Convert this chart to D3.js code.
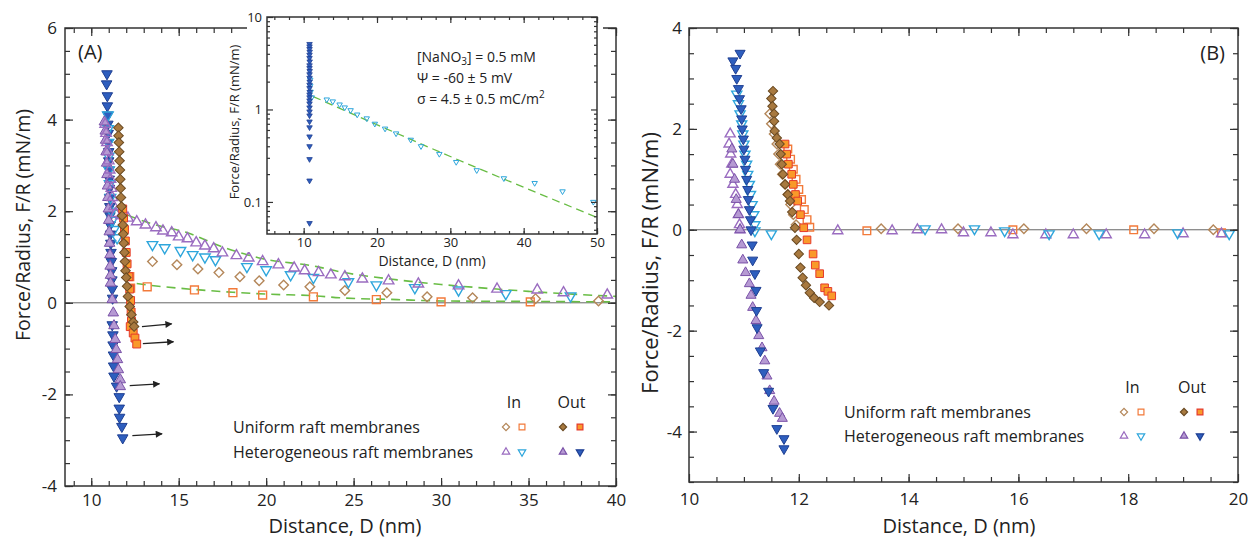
<!DOCTYPE html>
<html>
<head>
<meta charset="utf-8">
<script src="https://cdn.jsdelivr.net/npm/d3@7"></script>
<style>
  body { margin: 0; background: #fff; }
  svg { font-family: "Open Sans", sans-serif; }
</style>
</head>
<body>
<div class="plot"></div>
<script>
/* ---------- panel A data: [distance (nm), F/R (mN/m)] ---------- */
const aUniInDia = [[13.5,0.90],[14.9,0.83],[16.1,0.74],[17.3,0.66],[18.5,0.57],[19.6,0.48],[21.0,0.39],[22.5,0.35],
  [24.5,0.27],[26.9,0.22],[29.2,0.13],[31.8,0.11],[35.4,0.09],[39.0,0.04]];
const aUniInSq = [[12.2,0.57],[12.25,0.32],[13.2,0.35],[15.9,0.28],[18.1,0.22],[19.8,0.17],[22.7,0.13],[26.3,0.07],
  [30.0,0.02],[35.1,0.02]];
const aHetInUp = [[10.8,3.9],[10.85,3.7],[10.9,3.5],[10.95,3.3],[11.0,3.1],[11.05,2.9],[11.1,2.7],[11.15,2.5],
  [11.2,2.3],[11.3,2.1],[11.4,1.95],[11.7,1.9],[12.1,1.85],[12.6,1.77],[13.1,1.70],[13.7,1.64],[14.1,1.57],
  [14.6,1.53],[15.0,1.44],[15.5,1.40],[16.0,1.31],[16.5,1.24],[17.0,1.18],[17.5,1.09],[18.3,1.03],[19.0,0.98],
  [19.8,0.90],[20.7,0.83],[21.6,0.76],[22.2,0.70],[23.0,0.66],[23.7,0.61],[24.5,0.57],[25.5,0.52],[27.0,0.48],
  [28.7,0.41],[31.0,0.37],[33.2,0.30],[35.5,0.28],[37.0,0.22],[39.5,0.17]];
const aHetInDown = [[10.95,4.1],[10.97,3.8],[10.98,3.5],[11.0,3.2],[11.02,2.9],[11.05,2.6],[11.1,2.3],[11.15,2.0],
  [11.2,1.8],[11.3,1.6],[11.48,1.42],[13.5,1.27],[14.2,1.20],[15.1,1.14],[15.8,1.05],[16.5,1.00],[17.1,0.94],
  [18.9,0.79],[20.0,0.72],[21.4,0.61],[22.7,0.55],[24.7,0.46],[26.3,0.39],[28.5,0.33],[31.0,0.28],[33.7,0.20],[37.4,0.15]];
const aHetOutDown = [[10.9,5.0],[10.88,4.78],[10.92,4.52],[10.92,4.3],[10.95,4.1],[10.95,3.9],[10.97,3.7],[10.98,3.5],
  [11.0,3.3],[11.0,3.1],[11.02,2.9],[11.03,2.7],[11.04,2.5],[11.05,2.3],[11.06,2.1],[11.07,1.9],[11.08,1.7],
  [11.1,1.5],[11.12,1.3],[11.13,1.1],[11.15,0.9],[11.17,0.7],[11.18,0.5],[11.2,0.3],[11.22,0.1],[11.2,-0.48],
  [11.24,-0.7],[11.25,-0.92],[11.27,-1.14],[11.28,-1.38],[11.3,-1.6],[11.45,-1.82],[11.6,-2.05],[11.6,-2.3],
  [11.62,-2.5],[11.75,-2.7],[11.8,-2.95]];
const aHetOutUp = [[10.75,3.95],[10.8,3.75],[10.82,3.55],[10.85,3.3],[10.88,3.05],[10.9,2.8],[10.93,2.55],[10.95,2.3],
  [10.98,2.05],[11.0,1.8],[11.03,1.55],[11.05,1.3],[11.07,1.05],[11.08,0.8],[11.1,0.6],[11.1,0.43],[11.2,0.07],
  [11.26,-0.22],[11.3,-0.5],[11.37,-0.8],[11.43,-1.02],[11.5,-1.24],[11.55,-1.46],[11.66,-1.68],[11.66,-1.83]];
const aUniOutDia = [[11.55,3.82],[11.56,3.65],[11.58,3.5],[11.6,3.3],[11.62,3.1],[11.64,2.9],[11.66,2.7],[11.68,2.5],
  [11.7,2.3],[11.73,2.1],[11.76,1.9],[11.8,1.7],[11.83,1.5],[11.86,1.3],[11.9,1.1],[11.93,0.9],[11.96,0.7],
  [12.0,0.55],[12.05,0.36],[12.1,0.14],[12.2,-0.08],[12.3,-0.26],[12.4,-0.42],[12.45,-0.52]];
const aUniOutSq = [[11.8,2.05],[11.85,1.85],[11.9,1.6],[11.95,1.35],[12.0,1.1],[12.05,0.85],[12.15,0.57],[12.2,0.3],
  [12.25,0.05],[12.28,-0.2],[12.3,-0.4],[12.23,-0.52],[12.4,-0.66],[12.5,-0.77],[12.6,-0.9]];
const aFitUpper = [[11.3,2.05],[12.5,1.85],[13.5,1.72],[15.5,1.53],[17.5,1.22],[19.6,0.98],[22.9,0.79],[24.2,0.68],
  [27.5,0.50],[30,0.40],[32.5,0.32],[35,0.25],[37.5,0.19],[40,0.14]];
const aFitLower = [[12.6,0.42],[13.2,0.39],[15,0.32],[18.1,0.23],[20,0.19],[22.9,0.15],[24.2,0.11],[27.5,0.07],
  [30,0.04],[35,0.03],[40,0.02]];
// jump-out arrows: [d0, v0, d1, v1]
const aArrows = [[12.9,-0.52,14.6,-0.46],[12.95,-0.89,14.7,-0.85],[12.2,-1.81,13.9,-1.77],[12.35,-2.9,14.05,-2.86]];

/* ---------- inset data ---------- */
const insOutDown = [[10.8,5.1],[10.8,4.8],[10.8,4.5],[10.82,4.2],[10.8,3.9],[10.8,3.6],[10.82,3.3],[10.8,3.0],
  [10.8,2.8],[10.82,2.6],[10.8,2.4],[10.8,2.2],[10.82,2.0],[10.8,1.85],[10.8,1.7],[10.82,1.55],[10.8,1.45],
  [10.8,1.35],[10.8,1.25],[10.8,1.16],[10.8,1.05],[10.8,0.95],[10.8,0.86],[10.8,0.74],[10.8,0.64],[10.8,0.51],
  [10.8,0.40],[10.8,0.29],[10.8,0.17],[10.8,0.059]];
const insInDown = [[10.9,2.1],[10.9,1.8],[10.95,1.55],[11.1,1.35],[13.15,1.28],[13.97,1.22],[14.9,1.13],[15.6,1.05],
  [16.4,0.98],[17.3,0.88],[18.6,0.80],[19.7,0.70],[21.1,0.62],[22.6,0.55],[24.6,0.47],[26.0,0.40],[28.5,0.33],
  [30.8,0.27],[33.6,0.22],[37.3,0.18],[41.5,0.16],[45.3,0.13],[49.5,0.10]];
const insFit = [[11.3,1.38],[30,0.31],[50,0.068]];
const insText = ["[NaNO|3|] = 0.5 mM", "\u03A8 = -60 \u00B1 5 mV", "\u03C3 = 4.5 \u00B1 0.5 mC/m^2"];

/* ---------- panel B data ---------- */
const bUniInDia = [[11.47,2.3],[11.5,2.1],[11.55,1.9],[11.6,1.7],[11.63,1.5],[11.66,1.3],[11.7,1.1],[11.75,0.9],
  [11.8,0.7],[11.85,0.5],[11.9,0.3],[11.95,0.1],[13.5,0.02],[14.9,0.02],[16.1,0.02],[17.24,0.02],[18.47,0.02],[19.55,0.0]];
const bUniInSq = [[11.8,1.6],[11.85,1.4],[11.9,1.2],[11.95,1.0],[12.0,0.8],[12.05,0.6],[12.1,0.4],[12.15,0.2],
  [12.2,0.05],[13.24,-0.02],[15.9,0.0],[18.1,0.0],[19.7,-0.06]];
const bHetInUp = [[10.75,1.9],[10.73,1.7],[10.76,1.5],[10.78,1.3],[10.75,1.1],[10.8,0.9],[10.85,0.7],[10.88,0.5],
  [10.9,0.3],[10.92,0.1],[10.93,0.0],[12.71,-0.02],[13.7,-0.02],[14.16,0.0],[14.6,0.0],[15.0,-0.06],[15.5,-0.06],
  [15.9,-0.1],[16.5,-0.1],[17.0,-0.1],[17.6,-0.1],[18.3,-0.1],[19.0,-0.08],[19.7,-0.08]];
const bHetInDown = [[10.87,2.69],[10.9,2.5],[10.93,2.3],[10.96,2.1],[10.98,1.9],[11.0,1.7],[11.02,1.5],[11.05,1.3],
  [11.07,1.1],[11.1,0.9],[11.12,0.7],[11.15,0.5],[11.18,0.3],[11.2,0.1],[11.2,-0.02],[11.5,-0.08],[14.3,0.02],
  [15.2,0.02],[15.75,-0.02],[16.56,-0.08],[17.47,-0.08],[18.9,-0.06],[19.84,-0.08]];
const bHetOutDown = [[10.93,3.5],[10.8,3.35],[10.85,3.2],[10.87,3.0],[10.9,2.8],[10.92,2.6],[10.95,2.4],[10.96,2.2],
  [10.97,2.0],[10.99,1.8],[11.0,1.6],[11.02,1.4],[11.03,1.2],[11.05,1.0],[11.07,0.8],[11.08,0.6],[11.1,0.4],
  [11.12,0.2],[11.13,0.0],[11.15,-0.3],[11.16,-0.6],[11.2,-0.87],[11.22,-1.2],[11.23,-1.6],[11.24,-1.94],
  [11.3,-2.4],[11.36,-2.83],[11.45,-3.2],[11.53,-3.54],[11.6,-3.94],[11.73,-4.14],[11.73,-4.34]];
const bHetOutUp = [[10.78,1.6],[10.8,1.3],[10.83,1.0],[10.86,0.6],[10.9,0.3],[10.93,0.0],[10.96,-0.3],[10.98,-0.6],
  [11.03,-0.85],[11.1,-1.07],[11.13,-1.3],[11.16,-1.54],[11.22,-1.8],[11.27,-2.1],[11.33,-2.34],[11.38,-2.6],
  [11.42,-2.9],[11.47,-3.19],[11.55,-3.4],[11.65,-3.64],[11.7,-3.74]];
const bUniOutDia = [[11.53,2.75],[11.5,2.6],[11.52,2.45],[11.55,2.3],[11.55,2.15],[11.56,1.96],[11.6,1.82],[11.65,1.7],
  [11.67,1.5],[11.69,1.3],[11.71,1.1],[11.75,0.9],[11.8,0.7],[11.84,0.57],[11.88,0.35],[11.93,0.04],[11.96,-0.2],
  [12.0,-0.48],[12.03,-0.75],[12.07,-0.95],[12.13,-1.1],[12.2,-1.25],[12.28,-1.35],[12.38,-1.43],[12.55,-1.5]];
const bUniOutSq = [[11.75,1.7],[11.78,1.5],[11.81,1.3],[11.87,1.1],[11.9,0.9],[11.94,0.7],[11.98,0.57],[12.03,0.3],
  [12.09,0.04],[12.15,-0.2],[12.26,-0.48],[12.3,-0.7],[12.38,-0.87],[12.47,-1.15],[12.53,-1.22],[12.6,-1.31]];

/* ---------- ticks / labels ---------- */
const aXTicks = [10, 15, 20, 25, 30, 35, 40];
const aYTicks = [-4, -2, 0, 2, 4, 6];
const bXTicks = [10, 12, 14, 16, 18, 20];
const bYTicks = [-4, -2, 0, 2, 4];
const insXTicks = [10, 20, 30, 40, 50];
const insYTicks = [0.1, 1, 10];
const legendRows = ["Uniform raft membranes", "Heterogeneous raft membranes"];
const legendCols = ["In", "Out"];
const legendKeys = [["uniInDia", "uniInSq", "uniOutDia", "uniOutSq"], ["hetInUp", "hetInDown", "hetOutUp", "hetOutDown"]];

/* marker styles */
const styles = {
  uniInDia:   {shape: "dia",  fill: "none",    stroke: "#b4875a"},
  uniInSq:    {shape: "sq",   fill: "none",    stroke: "#f27a3a"},
  hetInUp:    {shape: "up",   fill: "none",    stroke: "#9a6cc0"},
  hetInDown:  {shape: "down", fill: "none",    stroke: "#2ea6dc"},
  uniOutDia:  {shape: "dia",  fill: "#a8793f", stroke: "#6a4a22"},
  uniOutSq:   {shape: "sq",   fill: "#f99a2a", stroke: "#e53a2c"},
  hetOutUp:   {shape: "up",   fill: "#b69ad3", stroke: "#7a52a8"},
  hetOutDown: {shape: "down", fill: "#2e5ebe", stroke: "#1f3f92"}
};
const green = "#69bd45";
const plain = d => String(d);   // hyphen minus like the original

const svg = d3.select(".plot").append("svg")
  .attr("width", 1251)
  .attr("height", 540);

/* symbol path for a shape; size = area in px^2 */
function symPath(shape, size) {
  if (shape === "sq" || shape === "dia") return d3.symbol(d3.symbolSquare, size)();
  return d3.symbol(d3.symbolTriangle, size)();
}
function symRot(shape) {
  return shape === "dia" ? 45 : shape === "down" ? 180 : 0;
}

function drawSeries(g, x, y, data, key, sizes, sw) {
  const st = styles[key];
  g.append("g").selectAll("path")
    .data(data)
    .join("path")
      .attr("d", symPath(st.shape, sizes[st.shape]))
      .attr("transform", d => `translate(${x(d[0])},${y(d[1])}) rotate(${symRot(st.shape)})`)
      .attr("fill", st.fill)
      .attr("stroke", st.stroke)
      .attr("stroke-width", sw);
}

/* inward ticks on all four sides, labels on bottom/left */
function frame(g, x, y, o) {
  const [x0, x1] = x.range();
  const [y0, y1] = y.range();
  const addAxis = (axis, tr) => {
    const a = g.append("g").attr("transform", tr).call(axis);
    a.select(".domain").remove();
    a.selectAll(".tick line").attr("stroke", "#333").attr("stroke-width", 1.2);
    a.selectAll("text").attr("font-family", "Open Sans").attr("font-size", o.font).attr("fill", "#222");
    return a;
  };
  [[o.xMinor, o.minor, null], [o.xMajor, o.major, o.xFmt]].forEach(([vals, len, fmt]) => {
    addAxis(d3.axisBottom(x).tickValues(vals).tickSize(-len).tickPadding(o.xPad).tickFormat(fmt || ""),
      `translate(0,${y0})`);
    addAxis(d3.axisTop(x).tickValues(vals).tickSize(-len).tickFormat(""), `translate(0,${y1})`);
  });
  [[o.yMinor, o.minor, null], [o.yMajor, o.major, o.yFmt]].forEach(([vals, len, fmt]) => {
    addAxis(d3.axisLeft(y).tickValues(vals).tickSize(-len).tickPadding(o.yPad).tickFormat(fmt || ""),
      `translate(${x0},0)`);
    addAxis(d3.axisRight(y).tickValues(vals).tickSize(-len).tickFormat(""), `translate(${x1},0)`);
  });
  g.append("rect")
    .attr("x", x0).attr("y", y1)
    .attr("width", x1 - x0).attr("height", y0 - y1)
    .attr("fill", "none").attr("stroke", "#333").attr("stroke-width", 1.5);
}

function zeroLine(g, x, y) {
  g.append("line")
    .attr("x1", x.range()[0]).attr("x2", x.range()[1])
    .attr("y1", y(0)).attr("y2", y(0))
    .attr("stroke", "#666").attr("stroke-width", 1);
}

function fitLine(g, x, y, pts, sw, dash) {
  g.append("path")
    .datum(pts)
    .attr("d", d3.line().x(d => x(d[0])).y(d => y(d[1])).curve(d3.curveMonotoneX))
    .attr("fill", "none")
    .attr("stroke", green)
    .attr("stroke-width", sw)
    .attr("stroke-dasharray", dash);
}

function legend(g, lx, rowY, headY, colX) {
  const sizes = {dia: 26, sq: 34, up: 24, down: 24};
  g.selectAll(".lrow").data(legendRows).join("text")
    .attr("x", lx).attr("y", (d, i) => rowY[i])
    .attr("dy", "0.35em").attr("font-size", 16).attr("fill", "#222")
    .text(d => d);
  g.selectAll(".lhead").data(legendCols).join("text")
    .attr("x", (d, i) => (colX[i * 2] + colX[i * 2 + 1]) / 2).attr("y", headY)
    .attr("dy", "0.35em").attr("text-anchor", "middle").attr("font-size", 16).attr("fill", "#222")
    .text(d => d);
  legendKeys.forEach((row, i) => row.forEach((k, j) => {
    const st = styles[k];
    g.append("path")
      .attr("d", symPath(st.shape, sizes[st.shape]))
      .attr("transform", `translate(${colX[j]},${rowY[i]}) rotate(${symRot(st.shape)})`)
      .attr("fill", st.fill).attr("stroke", st.stroke).attr("stroke-width", 1.2);
  }));
}

/* ================= panel A ================= */
const xA = d3.scaleLinear().domain([8.5, 40]).range([65, 616]);
const yA = d3.scaleLinear().domain([-4, 6]).range([486, 28]);
const gA = svg.append("g");

zeroLine(gA, xA, yA);
fitLine(gA, xA, yA, aFitUpper, 1.6, "9,6");
fitLine(gA, xA, yA, aFitLower, 1.6, "9,6");

const sizesA = {dia: 46, sq: 62, up: 48, down: 48};
drawSeries(gA, xA, yA, aUniInSq, "uniInSq", sizesA, 1.4);
drawSeries(gA, xA, yA, aUniInDia, "uniInDia", sizesA, 1.4);
drawSeries(gA, xA, yA, aHetOutDown, "hetOutDown", sizesA, 1);
drawSeries(gA, xA, yA, aHetInDown, "hetInDown", sizesA, 1.4);
drawSeries(gA, xA, yA, aHetOutUp, "hetOutUp", sizesA, 1);
drawSeries(gA, xA, yA, aHetInUp, "hetInUp", sizesA, 1.4);
drawSeries(gA, xA, yA, aUniOutSq, "uniOutSq", sizesA, 1);
drawSeries(gA, xA, yA, aUniOutDia, "uniOutDia", sizesA, 1);

/* arrows */
svg.append("defs").append("marker")
  .attr("id", "arrowhead")
  .attr("viewBox", "0 0 10 10").attr("refX", 9).attr("refY", 5)
  .attr("markerWidth", 9).attr("markerHeight", 7).attr("markerUnits", "userSpaceOnUse")
  .attr("orient", "auto")
  .append("path").attr("d", "M0,0 L10,5 L0,10 Z").attr("fill", "#222");
gA.selectAll(".arrow").data(aArrows).join("line")
  .attr("x1", d => xA(d[0])).attr("y1", d => yA(d[1]))
  .attr("x2", d => xA(d[2])).attr("y2", d => yA(d[3]))
  .attr("stroke", "#222").attr("stroke-width", 1.3)
  .attr("marker-end", "url(#arrowhead)");

frame(gA, xA, yA, {
  xMajor: aXTicks, xMinor: d3.range(9, 41, 1), yMajor: aYTicks, yMinor: d3.range(-4, 6.01, 0.5),
  major: 8, minor: 5, font: 17, xPad: 8, yPad: 8, xFmt: plain, yFmt: plain
});

gA.append("text").attr("x", 78).attr("y", 52).attr("dy", "0.35em")
  .attr("font-size", 20).attr("fill", "#222").text("(A)");
gA.append("text").attr("x", 345).attr("y", 526).attr("dy", "0.35em").attr("text-anchor", "middle")
  .attr("font-size", 20).attr("fill", "#222").text("Distance, D (nm)");
gA.append("text").attr("transform", "translate(23,225) rotate(-90)").attr("dy", "0.35em")
  .attr("text-anchor", "middle").attr("font-size", 19.5).attr("fill", "#222")
  .text("Force/Radius, F/R (mN/m)");

legend(gA, 233, [427, 452], 402, [506, 522, 563, 580]);

/* ================= inset ================= */
const gI = svg.append("g");
gI.append("rect").attr("x", 247).attr("y", 0).attr("width", 356).attr("height", 252).attr("fill", "#fff");
const xI = d3.scaleLinear().domain([5, 50]).range([267, 597]);
const yI = d3.scaleLog().domain([0.045, 10]).range([234, 17]);
fitLine(gI, xI, yI, insFit, 1.3, "8,5");
const sizesI = {dia: 12, sq: 12, up: 13, down: 13};
drawSeries(gI, xI, yI, insInDown, "hetInDown", sizesI, 1);
drawSeries(gI, xI, yI, insOutDown, "hetOutDown", sizesI, 0.8);

const insMinorY = [0.05,0.06,0.07,0.08,0.09,0.2,0.3,0.4,0.5,0.6,0.7,0.8,0.9,2,3,4,5,6,7,8,9];
frame(gI, xI, yI, {
  xMajor: insXTicks, xMinor: d3.range(6, 51, 2), yMajor: insYTicks, yMinor: insMinorY,
  major: 6, minor: 3, font: 13, xPad: 4, yPad: 5, xFmt: plain, yFmt: plain
});
gI.append("text").attr("x", 432).attr("y", 261).attr("dy", "0.35em").attr("text-anchor", "middle")
  .attr("font-size", 14).attr("fill", "#222").text("Distance, D (nm)");
gI.append("text").attr("transform", "translate(234,122) rotate(-90)").attr("dy", "0.35em")
  .attr("text-anchor", "middle").attr("font-size", 13).attr("fill", "#222")
  .text("Force/Radius, F/R (mN/m)");

insText.forEach((s, i) => {
  const t = gI.append("text").attr("x", 417).attr("y", 62 + i * 21).attr("font-size", 14).attr("fill", "#222");
  if (s.includes("|")) {
    const [p0, sub, p1] = s.split("|");
    t.append("tspan").text(p0);
    t.append("tspan").attr("font-size", 10).attr("dy", 3).text(sub);
    t.append("tspan").attr("dy", -3).text(p1);
  } else if (s.includes("^")) {
    const [p0, sup] = s.split("^");
    t.append("tspan").text(p0);
    t.append("tspan").attr("font-size", 10).attr("dy", -6).text(sup);
  } else {
    t.text(s);
  }
});

/* ================= panel B ================= */
const xB = d3.scaleLinear().domain([10, 20]).range([689, 1238]);
const yB = d3.scaleLinear().domain([-5, 4]).range([482, 28]);
const gB = svg.append("g");
zeroLine(gB, xB, yB);

const sizesB = {dia: 44, sq: 58, up: 44, down: 44};
drawSeries(gB, xB, yB, bUniInSq, "uniInSq", sizesB, 1.4);
drawSeries(gB, xB, yB, bUniInDia, "uniInDia", sizesB, 1.4);
drawSeries(gB, xB, yB, bHetInUp, "hetInUp", sizesB, 1.4);
drawSeries(gB, xB, yB, bHetInDown, "hetInDown", sizesB, 1.4);
drawSeries(gB, xB, yB, bHetOutUp, "hetOutUp", sizesB, 1);
drawSeries(gB, xB, yB, bHetOutDown, "hetOutDown", sizesB, 1);
drawSeries(gB, xB, yB, bUniOutSq, "uniOutSq", sizesB, 1);
drawSeries(gB, xB, yB, bUniOutDia, "uniOutDia", sizesB, 1);

frame(gB, xB, yB, {
  xMajor: bXTicks, xMinor: d3.range(10.5, 20, 0.5), yMajor: bYTicks, yMinor: d3.range(-5, 4.01, 0.5),
  major: 8, minor: 5, font: 17, xPad: 11, yPad: 7, xFmt: plain, yFmt: plain
});

gB.append("text").attr("x", 1225).attr("y", 53).attr("dy", "0.35em").attr("text-anchor", "end")
  .attr("font-size", 20).attr("fill", "#222").text("(B)");
gB.append("text").attr("x", 959).attr("y", 526).attr("dy", "0.35em").attr("text-anchor", "middle")
  .attr("font-size", 20).attr("fill", "#222").text("Distance, D (nm)");
gB.append("text").attr("transform", "translate(650,263) rotate(-90)").attr("dy", "0.35em")
  .attr("text-anchor", "middle").attr("font-size", 22).attr("fill", "#222")
  .text("Force/Radius, F/R (mN/m)");

legend(gB, 844, [412, 436], 387, [1124, 1141, 1184, 1200]);
</script>
</body>
</html>
